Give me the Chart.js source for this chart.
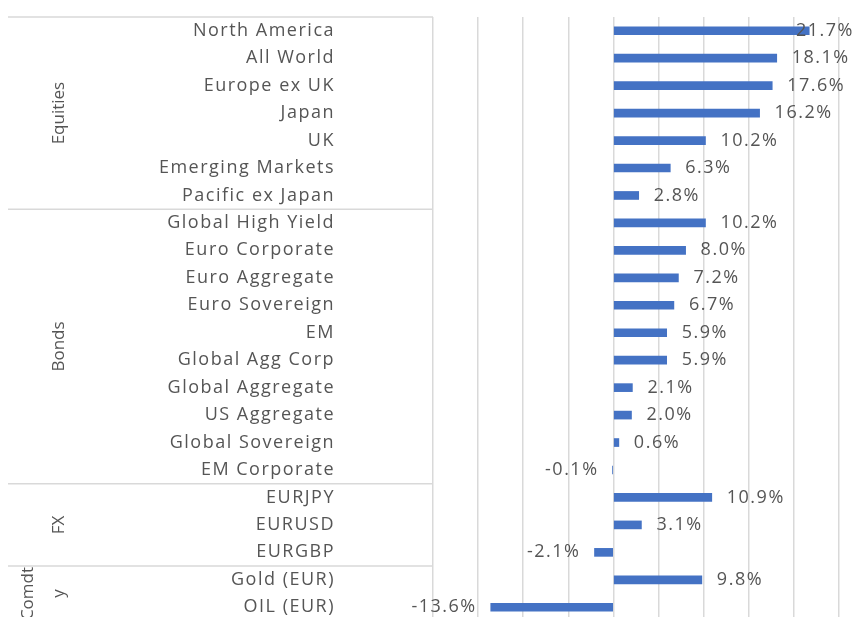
<!DOCTYPE html>
<html>
<head>
<meta charset="utf-8">
<script src="https://cdn.jsdelivr.net/npm/chart.js@4/dist/chart.umd.min.js"></script>
<style>
  html, body { margin: 0; padding: 0; background: #fff; overflow: hidden; }
  #wrap { width: 856px; height: 640px; position: relative; }
</style>
</head>
<body>
<div id="wrap"><canvas id="perfChart"></canvas></div>
<script>
const categories = [
    'North America', 'All World', 'Europe ex UK', 'Japan', 'UK', 'Emerging Markets', 'Pacific ex Japan',
    'Global High Yield', 'Euro Corporate', 'Euro Aggregate', 'Euro Sovereign', 'EM', 'Global Agg Corp',
    'Global Aggregate', 'US Aggregate', 'Global Sovereign', 'EM Corporate',
    'EURJPY', 'EURUSD', 'EURGBP',
    'Gold (EUR)', 'OIL (EUR)'
];
const returns = [
    21.7, 18.1, 17.6, 16.2, 10.2, 6.3, 2.8,
    10.2, 8.0, 7.2, 6.7, 5.9, 5.9, 2.1, 2.0, 0.6, -0.1,
    10.9, 3.1, -2.1,
    9.8, -13.6
];
// asset class groups: label lines, first and last category index
const groupNames = [['Equities'], ['Bonds'], ['FX'], ['Comdt', 'y']];
const groupStart = [0, 7, 17, 20];
const groupEnd = [6, 16, 19, 21];

const textColor = '#555555';
const fontFamily = "'Open Sans', sans-serif";

const spacingPlugin = {
    id: 'spacing',
    beforeDraw(chart) {
        chart.ctx.letterSpacing = '1.5px';
    }
};

const labelPlugin = {
    id: 'barLabels',
    afterDatasetsDraw(chart) {
        const ctx = chart.ctx;
        const meta = chart.getDatasetMeta(0);
        ctx.save();
        ctx.font = '18px ' + fontFamily;
        ctx.fillStyle = textColor;
        ctx.textBaseline = 'middle';
        meta.data.forEach((bar, i) => {
            const v = returns[i];
            const txt = v.toFixed(1) + '%';
            const w = ctx.measureText(txt).width;
            if (v >= 0) {
                let x = bar.x + 15;
                x = Math.min(x, chart.width - w - 2);
                ctx.textAlign = 'left';
                ctx.fillText(txt, x, bar.y);
            } else {
                ctx.textAlign = 'right';
                ctx.fillText(txt, bar.x - 14, bar.y);
            }
        });
        ctx.restore();
    }
};

const groupPlugin = {
    id: 'groups',
    afterDraw(chart) {
        const ctx = chart.ctx;
        const y = chart.scales.y;
        const left = 8;
        const right = chart.chartArea.left;
        const half = (y.getPixelForValue(1) - y.getPixelForValue(0)) / 2;
        ctx.save();
        ctx.strokeStyle = '#d9d9d9';
        ctx.lineWidth = 1.5;
        ctx.beginPath();
        ctx.moveTo(left, chart.chartArea.top);
        ctx.lineTo(right, chart.chartArea.top);
        for (let g = 1; g < groupStart.length; g++) {
            const yy = y.getPixelForValue(groupStart[g]) - half;
            ctx.moveTo(left, yy);
            ctx.lineTo(right, yy);
        }
        ctx.stroke();

        ctx.letterSpacing = '0px';
        ctx.font = '17px ' + fontFamily;
        ctx.fillStyle = textColor;
        ctx.textAlign = 'center';
        ctx.textBaseline = 'middle';
        groupNames.forEach((lines, g) => {
            const yc = (y.getPixelForValue(groupStart[g]) + y.getPixelForValue(groupEnd[g])) / 2;
            lines.forEach((line, k) => {
                const xc = lines.length === 1 ? 59 : 28 + k * 31;
                ctx.save();
                ctx.translate(xc, yc);
                ctx.rotate(-Math.PI / 2);
                ctx.fillText(line, 0, 0);
                ctx.restore();
            });
        });
        ctx.restore();
    }
};

new Chart(document.getElementById('perfChart'), {
    type: 'bar',
    data: {
        labels: categories,
        datasets: [{
            data: returns,
            backgroundColor: '#4472C4',
            barThickness: 8
        }]
    },
    options: {
        indexAxis: 'y',
        responsive: true,
        maintainAspectRatio: false,
        animation: false,
        layout: { padding: { left: 0, right: 17, top: 17, bottom: 19 } },
        plugins: {
            legend: { display: false },
            tooltip: { enabled: false }
        },
        scales: {
            x: {
                min: -20,
                max: 25,
                ticks: { display: false, stepSize: 5 },
                grid: { color: '#d9d9d9', lineWidth: 1.5, drawTicks: false },
                border: { display: false },
                afterFit(scale) { scale.height = 0; }
            },
            y: {
                ticks: {
                    autoSkip: false,
                    padding: 90,
                    color: textColor,
                    font: { family: fontFamily, size: 18 }
                },
                grid: { display: false },
                border: { display: false },
                afterFit(scale) {
                    scale.width = 433;
                    scale.paddingTop = 0;
                    scale.paddingBottom = 0;
                }
            }
        }
    },
    plugins: [spacingPlugin, labelPlugin, groupPlugin]
});
</script>
</body>
</html>
